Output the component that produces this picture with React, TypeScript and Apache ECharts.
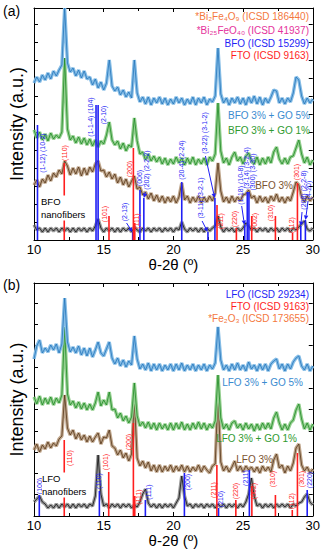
import React, { useEffect, useRef } from "react";
import * as echarts from "echarts";

// ---------- shared 2θ grid (degrees) ----------
const twoTheta: number[] = Array.from({ length: 101 }, (_, i) => Math.round((10 + i * 0.2) * 10) / 10);

// ---------- Panel (a) traces (intensity, a.u.) ----------
const bfoGo5 = [
  157, 163, 158, 165, 160, 167, 161, 169, 164, 170, 175, 232, 177, 168, 172,
  164, 170, 162, 169, 161, 163, 155, 161, 152, 158, 150, 157, 180, 154, 149,
  153, 145, 150, 143, 148, 142, 180, 147, 138, 143, 136, 143, 135, 142, 137,
  143, 136, 142, 135, 141, 136, 143, 137, 142, 135, 141, 136, 143, 135, 142,
  137, 143, 135, 141, 138, 144, 192, 146, 137, 142, 135, 142, 137, 143, 136,
  142, 135, 143, 137, 144, 136, 143, 135, 142, 137, 143, 150, 149, 137, 142,
  136, 142, 138, 147, 163, 160, 144, 136, 142, 137, 141,
];
const bfoGo1 = [
  110, 102, 108, 100, 106, 99, 107, 101, 105, 102, 108, 182, 111, 100, 104,
  97, 103, 96, 102, 95, 101, 94, 100, 93, 99, 96, 105, 118, 100, 95,
  99, 91, 97, 89, 95, 93, 122, 99, 86, 88, 80, 86, 79, 84, 78,
  83, 76, 82, 75, 81, 76, 83, 77, 82, 75, 82, 76, 83, 75, 81,
  76, 82, 75, 83, 79, 86, 137, 89, 77, 82, 75, 83, 88, 79, 83,
  76, 84, 87, 79, 76, 83, 75, 82, 76, 83, 77, 88, 93, 81, 76,
  82, 76, 83, 84, 92, 100, 86, 77, 83, 75, 80,
];
const bfo3 = [
  55, 60, 53, 61, 57, 65, 59, 67, 63, 70, 66, 79, 74, 65, 72,
  66, 73, 64, 72, 65, 73, 68, 76, 79, 69, 70, 63, 68, 61, 66,
  57, 63, 55, 61, 53, 59, 64, 51, 53, 45, 48, 41, 47, 39, 45,
  38, 44, 37, 43, 38, 44, 37, 43, 57, 40, 44, 37, 43, 38, 44,
  37, 43, 38, 44, 39, 47, 77, 49, 38, 43, 37, 44, 38, 43, 39,
  45, 46, 50, 42, 44, 37, 44, 38, 43, 37, 44, 39, 46, 38, 43,
  37, 43, 39, 48, 58, 55, 43, 38, 44, 39, 43,
];
const bfoNano = [
  15, 10, 12, 8, 12, 8, 12, 9, 12, 8, 12, 9, 12, 8, 12,
  8, 12, 9, 12, 8, 12, 9, 14, 21, 12, 8, 12, 9, 12, 8,
  12, 8, 12, 9, 12, 8, 13, 10, 8, 12, 9, 12, 8, 12, 9,
  12, 8, 12, 9, 12, 8, 12, 10, 18, 11, 8, 12, 9, 12, 8,
  12, 8, 12, 9, 12, 14, 24, 13, 8, 12, 9, 12, 8, 12, 9,
  12, 17, 14, 10, 12, 8, 12, 9, 12, 8, 12, 9, 12, 8, 12,
  9, 12, 8, 12, 10, 13, 16, 19, 11, 9, 12,
];

// ---------- Panel (b) traces ----------
const lfoGo5 = [
  157, 170, 176, 163, 168, 164, 171, 166, 172, 163, 172, 218, 174, 164, 169,
  163, 170, 161, 168, 160, 168, 159, 166, 174, 163, 160, 167, 174, 158, 152,
  158, 150, 156, 149, 155, 151, 180, 157, 147, 152, 146, 153, 145, 152, 146,
  152, 145, 151, 146, 152, 145, 152, 146, 153, 145, 151, 146, 152, 145, 151,
  146, 152, 145, 151, 147, 153, 189, 156, 146, 151, 145, 152, 146, 153, 146,
  151, 145, 154, 147, 151, 145, 152, 146, 152, 145, 152, 155, 157, 147, 152,
  145, 152, 147, 154, 158, 160, 150, 146, 152, 145, 150,
];
const lfoGo1 = [
  119, 112, 120, 111, 118, 112, 119, 111, 118, 113, 121, 189, 122, 111, 115,
  108, 114, 107, 113, 106, 112, 106, 113, 124, 110, 116, 111, 124, 106, 107,
  98, 103, 95, 100, 93, 99, 133, 100, 90, 94, 88, 94, 87, 93, 86,
  93, 87, 92, 86, 93, 86, 93, 87, 94, 86, 92, 86, 93, 87, 94,
  87, 93, 86, 92, 88, 95, 141, 98, 87, 92, 86, 93, 95, 88, 92,
  86, 93, 87, 92, 85, 92, 86, 93, 87, 93, 87, 98, 104, 93, 86,
  92, 86, 93, 96, 106, 112, 97, 87, 93, 86, 92,
];
const lfo3 = [
  66, 72, 64, 71, 67, 74, 68, 73, 70, 77, 80, 121, 88, 81, 86,
  77, 83, 76, 81, 74, 80, 74, 79, 83, 72, 79, 78, 86, 70, 68,
  61, 66, 58, 63, 55, 62, 116, 58, 50, 55, 48, 54, 45, 51, 44,
  51, 44, 50, 45, 51, 44, 50, 45, 51, 44, 50, 44, 49, 45, 51,
  44, 50, 46, 43, 50, 52, 121, 54, 45, 50, 44, 49, 55, 45, 50,
  44, 50, 46, 49, 44, 49, 43, 50, 45, 49, 44, 56, 62, 48, 51,
  43, 50, 45, 53, 68, 72, 51, 45, 49, 43, 47,
];
const lfoNano = [
  14, 17, 20, 14, 12, 8, 11, 8, 12, 8, 12, 9, 12, 8, 12,
  8, 12, 9, 12, 8, 12, 10, 20, 61, 22, 10, 12, 8, 12, 9,
  12, 8, 12, 9, 12, 8, 11, 9, 14, 22, 27, 13, 9, 12, 8,
  12, 8, 12, 9, 12, 8, 13, 18, 40, 20, 10, 12, 8, 12, 9,
  12, 8, 12, 9, 12, 8, 12, 9, 12, 8, 12, 9, 12, 8, 12,
  9, 14, 22, 38, 20, 10, 12, 8, 12, 9, 12, 8, 12, 9, 12,
  9, 12, 8, 12, 10, 13, 14, 19, 22, 14, 11,
];

// ---------- reference patterns (sticks) ----------
const bfoRefPos = [10.25, 14.45, 14.6, 17.08, 17.6, 17.88, 20.6, 22.48, 22.98, 25.12, 25.3, 25.42, 29.14, 29.47];
const bfoRefInt = [115, 135, 135, 8, 50, 42, 58, 8, 42, 15, 48, 48, 14, 20];
const ftoPosA = [12.17, 15.38, 17.13, 17.23, 23.13, 24.52, 25.62, 27.32, 28.55, 28.9];
const ftoIntA = [77, 24, 92, 17, 35, 12, 24, 24, 7, 57];
const lfoRefPos = [10.38, 14.69, 17.99, 20.79, 23.24, 25.45, 29.6];
const lfoRefInt = [21, 25, 16, 43, 8, 46, 26];
const ftoPosB = [12.17, 15.36, 17.13, 17.23, 23.12, 24.48, 25.63, 27.32, 28.53, 28.9];
const ftoIntB = [76, 44, 93, 20, 51, 16, 30, 21, 6, 63];

// impurity markers (*)
const bi2fe4o9Marks = [[13.57, 168]];
const bi25feo40Marks = [[12.63, 14]];
const fe2o3Marks = [[11.05, 174], [14.97, 167], [15.78, 163], [19.28, 155]];

// ---------- hkl labels (anchor in 2θ / intensity; optional arrow) ----------
type Lbl = { t: string; x: number; y: number; a?: number[] };
const bfoLabels: Lbl[] = [
  { t: "(1-12) (10-2)", x: 10.63, y: 87 },
  { t: "(1-1-4) (104)", x: 14.06, y: 123 },
  { t: "(2-10)", x: 14.97, y: 125 },
  { t: "(2-13)", x: 16.5, y: 28, a: [16.64, 17, 17.06, 8] },
  { t: "(006)", x: 17.6, y: 62 },
  { t: "(202) (2-2-2)", x: 18.04, y: 70, a: [18.0, 48, 17.88, 42] },
  { t: "(20-4) (2-24)", x: 20.61, y: 80 },
  { t: "(3-11) (3-2-1)", x: 21.96, y: 42, a: [22.06, 19, 22.46, 8] },
  { t: "(3-22) (3-1-2)", x: 22.24, y: 107, a: [22.3, 84, 22.96, 42] },
  { t: "(1-18) (10-8)", x: 24.83, y: 55, a: [24.9, 34, 25.1, 15] },
  { t: "(3-14) (3-2-4)", x: 25.21, y: 72 },
  { t: "(300) (3-30)", x: 25.66, y: 68 },
  { t: "(208) (2-2-8)", x: 29.3, y: 50, a: [29.23, 28, 29.14, 14] },
  { t: "(4-20)", x: 29.72, y: 50, a: [29.66, 39, 29.48, 20] },
];
const ftoLabelsA: Lbl[] = [
  { t: "(110)", x: 12.17, y: 87 },
  { t: "(101)", x: 15.07, y: 26 },
  { t: "(200)", x: 16.83, y: 71 },
  { t: "(111)", x: 17.34, y: 19 },
  { t: "(211)", x: 23.39, y: 19 },
  { t: "(220)", x: 24.41, y: 21 },
  { t: "(002)", x: 25.84, y: 19 },
  { t: "(310)", x: 26.99, y: 27 },
  { t: "(112)", x: 28.5, y: 15 },
  { t: "(301)", x: 28.85, y: 68 },
];
const lfoLabels: Lbl[] = [
  { t: "(100)", x: 10.42, y: 30 },
  { t: "(110)", x: 14.62, y: 35 },
  { t: "(111)", x: 18.25, y: 24 },
  { t: "(200)", x: 20.98, y: 34 },
  { t: "(210)", x: 23.36, y: 17 },
  { t: "(211)", x: 25.17, y: 38 },
  { t: "(220)", x: 29.79, y: 36 },
];
const ftoLabelsB: Lbl[] = [
  { t: "(110)", x: 12.52, y: 58 },
  { t: "(101)", x: 15.13, y: 54 },
  { t: "(200)", x: 16.78, y: 74 },
  { t: "(111)", x: 17.53, y: 19 },
  { t: "(211)", x: 22.85, y: 26 },
  { t: "(220)", x: 24.48, y: 25 },
  { t: "(002)", x: 25.76, y: 25 },
  { t: "(310)", x: 27.13, y: 37 },
  { t: "(112)", x: 28.46, y: 15 },
  { t: "(301)", x: 29.18, y: 37 },
];

// ---------- styles ----------
const FONT = '"Liberation Sans", Arial, Helvetica, sans-serif';
const REF_BLUE = "#1f1ff5";
const RED = "#ff1e1e";
const ORANGE = "#f4783e";
const MAGENTA = "#e5339c";
const T_BLUE = "#2676bb", T_BLUE_L = "#86bde6", T_BLUE_TXT = "#3a8bd0";
const T_GREEN = "#1f8a26", T_GREEN_L = "#94cf8f", T_GREEN_TXT = "#2f9a2f";
const T_BROWN = "#553619", T_BROWN_L = "#bfa68c", T_BROWN_TXT = "#7a5230";
const T_BLACK = "#111111", T_BLACK_L = "#9a9a9a";

function trace(ys: number[], dark: string, light: string, gi: number) {
  const data = ys.map((y, i) => [twoTheta[i], y]);
  const base = { type: "line", xAxisIndex: gi * 2, yAxisIndex: gi * 2, data, symbol: "none", silent: true, z: 2 };
  return [
    { ...base, lineStyle: { color: light, width: 3.4 } },
    { ...base, lineStyle: { color: dark, width: 0.8 } },
  ];
}

function sticks(pos: number[], ints: number[], color: string, gi: number) {
  return {
    type: "custom",
    xAxisIndex: gi * 2,
    yAxisIndex: gi * 2,
    z: 4,
    silent: true,
    data: pos.map((p, i) => [p, ints[i]]),
    encode: { x: 0, y: 1 },
    renderItem: (_p: any, api: any) => {
      const x = api.value(0), h = api.value(1);
      const p0 = api.coord([x, 0]);
      const p1 = api.coord([x, h]);
      return { type: "line", shape: { x1: p0[0], y1: p0[1], x2: p1[0], y2: p1[1] }, style: { stroke: color, lineWidth: 1.6 } };
    },
  };
}

function hklLabels(list: Lbl[], color: string, gi: number) {
  return {
    type: "custom",
    xAxisIndex: gi * 2,
    yAxisIndex: gi * 2,
    z: 5,
    silent: true,
    clip: false,
    data: list.map((l) => [l.x, l.y]),
    encode: { x: 0, y: 1 },
    renderItem: (params: any, api: any) => {
      const l = list[params.dataIndex];
      const c = api.coord([api.value(0), api.value(1)]);
      const children: any[] = [
        {
          type: "text",
          x: c[0],
          y: c[1],
          rotation: Math.PI / 2,
          style: { text: l.t, fill: color, fontSize: 7, fontFamily: FONT, align: "center", verticalAlign: "middle" },
        },
      ];
      if (l.a) {
        const s = api.coord([l.a[0], l.a[1]]);
        const e = api.coord([l.a[2], l.a[3]]);
        const dx = e[0] - s[0], dy = e[1] - s[1];
        const len = Math.hypot(dx, dy) || 1;
        const ux = dx / len, uy = dy / len;
        const bx = e[0] - ux * 4.5, by = e[1] - uy * 4.5;
        children.push({ type: "line", shape: { x1: s[0], y1: s[1], x2: bx, y2: by }, style: { stroke: color, lineWidth: 1 } });
        children.push({
          type: "polygon",
          shape: { points: [[e[0], e[1]], [bx - uy * 2.2, by + ux * 2.2], [bx + uy * 2.2, by - ux * 2.2]] },
          style: { fill: color },
        });
      }
      return { type: "group", children };
    },
  };
}

function marks(data: number[][], color: string, gi: number) {
  return {
    type: "scatter",
    xAxisIndex: gi * 2,
    yAxisIndex: gi * 2,
    data,
    symbolSize: 1,
    itemStyle: { opacity: 0 },
    silent: true,
    z: 6,
    label: { show: true, formatter: "*", position: "inside", color, fontSize: 9, fontFamily: FONT },
  };
}

function xAxes(gi: number) {
  const common = {
    gridIndex: gi,
    type: "value",
    min: 10,
    max: 30,
    interval: 5,
    axisLine: { show: true, onZero: false, lineStyle: { color: "#000", width: 1 } },
    axisTick: { show: true, inside: true, length: 4, lineStyle: { color: "#000" } },
    minorTick: { show: true, splitNumber: 2, length: 3, lineStyle: { color: "#000" } },
    splitLine: { show: false },
  };
  return [
    {
      ...common,
      position: "bottom",
      axisLabel: { show: true, fontSize: 13, margin: 3, color: "#000", fontFamily: FONT },
      name: "θ-2θ (º)",
      nameLocation: "middle",
      nameGap: gi === 0 ? 17 : 16,
      nameTextStyle: { fontSize: 15, color: "#000", fontFamily: FONT },
    },
    { ...common, position: "top", axisLabel: { show: false } },
  ];
}

function yAxes(gi: number, max: number, interval: number) {
  const common = {
    gridIndex: gi,
    type: "value",
    min: 0,
    max,
    interval,
    axisLine: { show: true, onZero: false, lineStyle: { color: "#000", width: 1 } },
    axisTick: { show: true, inside: true, length: 4, lineStyle: { color: "#000" } },
    axisLabel: { show: false },
    splitLine: { show: false },
  };
  return [
    {
      ...common,
      position: "left",
      name: "Intensity (a.u.)",
      nameLocation: "middle",
      nameGap: 8,
      nameTextStyle: { fontSize: 18, color: "#000", fontFamily: FONT },
    },
    { ...common, position: "right" },
  ];
}

function txt(text: string, x: number, y: number, color: string, size: number, align = "left", extra: any = {}) {
  return {
    type: "text",
    x,
    y,
    z: 100,
    silent: true,
    style: { text, fill: color, fontSize: size, fontFamily: FONT, align, verticalAlign: "middle", ...extra },
  };
}

export default function App() {
  const ref = useRef<HTMLDivElement>(null);
  useEffect(() => {
    if (!ref.current) return;
    const chart = echarts.init(ref.current, null, { renderer: "svg" });
    const option: any = {
      animation: false,
      backgroundColor: "#fff",
      grid: [
        { left: 29, top: 8, width: 286, height: 232 },
        { left: 29, top: 283, width: 286, height: 233 },
      ],
      xAxis: [...xAxes(0), ...xAxes(1)],
      yAxis: [...yAxes(0, 232, 18), ...yAxes(1, 233, 21.3)],
      series: [
        ...trace(bfoNano, T_BLACK, T_BLACK_L, 0),
        ...trace(bfo3, T_BROWN, T_BROWN_L, 0),
        ...trace(bfoGo1, T_GREEN, T_GREEN_L, 0),
        ...trace(bfoGo5, T_BLUE, T_BLUE_L, 0),
        sticks(bfoRefPos, bfoRefInt, REF_BLUE, 0),
        sticks(ftoPosA, ftoIntA, RED, 0),
        hklLabels(bfoLabels, REF_BLUE, 0),
        hklLabels(ftoLabelsA, RED, 0),
        marks(bi2fe4o9Marks, ORANGE, 0),
        marks(bi25feo40Marks, MAGENTA, 0),
        ...trace(lfoNano, T_BLACK, T_BLACK_L, 1),
        ...trace(lfo3, T_BROWN, T_BROWN_L, 1),
        ...trace(lfoGo1, T_GREEN, T_GREEN_L, 1),
        ...trace(lfoGo5, T_BLUE, T_BLUE_L, 1),
        sticks(lfoRefPos, lfoRefInt, REF_BLUE, 1),
        sticks(ftoPosB, ftoIntB, RED, 1),
        hklLabels(lfoLabels, REF_BLUE, 1),
        hklLabels(ftoLabelsB, RED, 1),
        marks(fe2o3Marks, ORANGE, 1),
      ],
      graphic: [
        txt("(a)", 3, 11, "#000", 14),
        txt("*Bi₂Fe₄O₉ (ICSD 186440)", 309, 16, ORANGE, 10, "right"),
        txt("*Bi₂₅FeO₄₀ (ICSD 41937)", 309, 30, MAGENTA, 10, "right"),
        txt("BFO (ICSD 15299)", 309, 43, REF_BLUE, 10, "right"),
        txt("FTO (ICSD 9163)", 309, 55, RED, 10, "right"),
        txt("BFO 3% + GO 5%", 310, 115, T_BLUE_TXT, 10, "right"),
        txt("BFO 3% + GO 1%", 310, 130, T_GREEN_TXT, 10, "right"),
        txt("BFO 3%", 293, 185, T_BROWN_TXT, 10, "right"),
        txt("BFO\nnanofibers", 41, 208, "#000", 9.5, "left", { backgroundColor: "#fff", lineHeight: 12.5 }),
        txt("(b)", 3, 285, "#000", 14),
        txt("LFO (ICSD 29234)", 309, 294, REF_BLUE, 10, "right"),
        txt("FTO (ICSD 9163)", 309, 306, RED, 10, "right"),
        txt("*Fe₂O₃ (ICSD 173655)", 309, 318, ORANGE, 10, "right"),
        txt("LFO 3% + GO 5%", 303, 382, T_BLUE_TXT, 10, "right"),
        txt("LFO 3% + GO 1%", 297, 438, T_GREEN_TXT, 10, "right"),
        txt("LFO 3%", 273, 459, T_BROWN_TXT, 10, "right"),
        txt("LFO\nnanofibers", 42, 485, "#000", 9.5, "left", { backgroundColor: "#fff", lineHeight: 12.5 }),
      ],
    };
    chart.setOption(option);
    return () => chart.dispose();
  }, []);
  return <div ref={ref} style={{ position: "absolute", left: 0, top: 0, width: 323, height: 550 }} />;
}
